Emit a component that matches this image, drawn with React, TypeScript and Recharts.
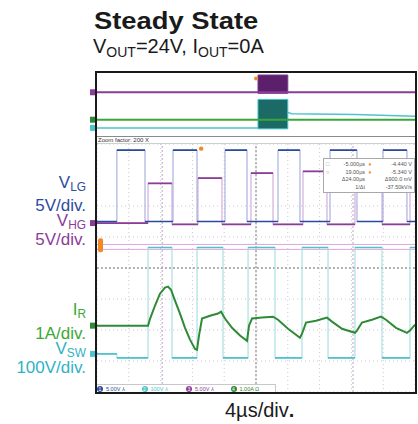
import {
  ComposedChart,
  Line,
  XAxis,
  YAxis,
  CartesianGrid,
  ReferenceLine,
  ReferenceArea,
  ReferenceDot,
} from 'recharts'

// zoom window: time in µs (4µs/div), levels in graticule divisions from centre
const vlgTime = [-20, -17.5, -13.96, -10.44, -7.42, -3.9, -1.13, 2.77, 5.53, 9.31, 12.7, 15.97, 18.99, 20]
const vlgLevel = [1.5, 3.8, 1.5, 3.8, 1.5, 3.8, 1.5, 3.8, 1.5, 3.8, 1.5, 3.8, 1.5, 1.5]

const vhgTime = [-20, -13.58, -10.57, -7.3, -4.28, -0.63, 2.14, 5.91, 8.93, 12.45, 15.85, 19.37, 20]
const vhgLevel = [1.45, 2.73, 1.41, 2.9, 1.41, 3.06, 1.41, 3.12, 1.41, 3.19, 1.41, 3.22, 3.22]

const vswTime = [-20, -17.5, -13.58, -10.57, -7.42, -4.15, -1.0, 2.39, 5.79, 9.06, 12.45, 15.85, 19.37, 20]
const vswLevel = [-2.77, -2.9, 0.66, -2.9, 0.66, -2.9, 0.66, -2.9, 0.66, -2.9, 0.66, -2.9, 0.66, 0.66]

const irTime = [
  -20, -13.58, -13.33, -12.7, -12.08, -11.45, -11.07, -10.69, -10.19, -9.56, -8.93, -8.3, -7.67, -7.42,
  -7.17, -6.79, -5.79, -4.78, -4.4, -3.9, -3.02, -2.01, -1.13, -0.88, -0.5, 0.75, 2.14, 2.77, 4.03, 5.53,
  5.79, 6.29, 7.55, 8.93, 9.56, 10.82, 12.45, 12.7, 13.33, 14.59, 15.72, 16.35, 17.61, 18.99, 19.37, 20,
]
const irLevel = [
  -1.86, -1.86, -1.64, -1.21, -0.83, -0.63, -0.6, -0.7, -1.05, -1.47, -1.93, -2.31, -2.61, -2.64,
  -2.18, -1.63, -1.54, -1.47, -1.41, -1.63, -1.93, -2.18, -2.35, -1.86, -1.63, -1.6, -1.57, -1.67, -1.96, -2.25,
  -2.12, -1.76, -1.7, -1.6, -1.73, -1.96, -2.09, -2.02, -1.76, -1.67, -1.57, -1.67, -1.93, -2.09, -2.02, -1.83,
]

const timeTicks = [-20, -16, -12, -8, -4, 0, 4, 8, 12, 16, 20]
const divTicks = [-4, -3, -2, -1, 0, 1, 2, 3, 4]
const cursorTimes = [-11.8, 12.2]
const cursorLevels = [0.76, 0.6]

// full record: time in ms (0.8ms/div)
const recTicks = [-4, -3.2, -2.4, -1.6, -0.8, 0, 0.8, 1.6, 2.4, 3.2, 4]
const hgRecTime = [-4, 4]
const hgRecLevel = [1.59, 1.59]
const irRecTime = [-4, 4]
const irRecLevel = [-1.84, -1.84]
const swRecTime = [-4, 0.05, 0.4, 0.8, 0.9, 2.5, 4]
const swRecLevel = [-2.86, -2.86, null, -0.95, -1.08, -1.2, -1.42]
const burstTime = [0.05, 0.8]
const hgBurst = [1.46, 3.75]
const swBurst = [-2.98, 0.7]

const zip = (t: number[], v: (number | null)[]) => t.map((x, i) => ({ t: x, v: v[i] }))
// only the flat parts of a step trace, so the fast edges can be drawn paler
const flats = (t: number[], v: number[]) =>
  t.slice(0, -1).flatMap((x, i) => [
    { t: x, v: v[i] },
    { t: t[i + 1], v: v[i] },
    { t: t[i + 1], v: null },
  ])

const BLUE = '#2a4b9d'
const PURPLE = '#8a3d97'
const CYAN = '#4ec3cc'
const GREEN = '#2f8a36'
const ORANGE = '#f08a24'
const FONT = '"Liberation Sans", Arial, Helvetica, sans-serif'

const tab = (color: string) => (p: any) => (
  <rect x={p.cx - 7} y={p.cy - 3} width={5} height={6} fill={color} />
)
const innerTab = (p: any) => <rect x={p.cx + 1} y={p.cy - 7} width={5} height={14} rx={2} fill={ORANGE} />

function Label({ top, color, main, sub, size = 17 }: { top: number; color: string; main: string; sub?: string; size?: number }) {
  return (
    <div style={{ position: 'absolute', right: 332, top, color, fontSize: size, lineHeight: 1, whiteSpace: 'nowrap' }}>
      {main}
      {sub && <span style={{ fontSize: size * 0.7, position: 'relative', top: 3 }}>{sub}</span>}
    </div>
  )
}

function Overview() {
  return (
    <div style={{ position: 'absolute', left: 89, top: 73 }}>
      <ComposedChart width={326} height={64} margin={{ top: 0, right: 0, bottom: 0, left: 8 }}>
        <XAxis dataKey="t" type="number" domain={[-4, 4]} ticks={recTicks} hide allowDataOverflow />
        <YAxis type="number" domain={[-4, 4]} hide allowDataOverflow />
        <ReferenceArea x1={burstTime[0]} x2={burstTime[1]} y1={hgBurst[0]} y2={hgBurst[1]} fill="#5b1f6c" fillOpacity={1} stroke="#7b3a8c" />
        <ReferenceArea x1={burstTime[0]} x2={burstTime[1]} y1={swBurst[0]} y2={swBurst[1]} fill="#1c6a66" fillOpacity={1} stroke="#3fc2c8" />
        <Line data={zip(hgRecTime, hgRecLevel)} dataKey="v" stroke={PURPLE} strokeWidth={2} dot={false} isAnimationActive={false} />
        <Line data={zip(swRecTime, swRecLevel)} dataKey="v" stroke={CYAN} strokeWidth={1.5} dot={false} isAnimationActive={false} />
        <Line data={zip(irRecTime, irRecLevel)} dataKey="v" stroke="#3aa63a" strokeWidth={2} dot={false} isAnimationActive={false} />
        <ReferenceDot x={0} y={3.3} r={2} fill={ORANGE} stroke="none" />
        <ReferenceDot x={-4} y={hgRecLevel[0]} shape={tab(PURPLE)} ifOverflow="visible" />
        <ReferenceDot x={-4} y={irRecLevel[0]} shape={tab(GREEN)} ifOverflow="visible" />
        <ReferenceDot x={-4} y={swRecLevel[0]} shape={tab(CYAN)} ifOverflow="visible" />
      </ComposedChart>
    </div>
  )
}

function ZoomWindow() {
  const step = (t: number[], v: number[], color: string, edge: string, w: number) => [
    <Line key={color + 'e'} data={zip(t, v)} dataKey="v" type="stepAfter" stroke={edge} strokeWidth={1.1} dot={false} isAnimationActive={false} />,
    <Line key={color + 'f'} data={flats(t, v)} dataKey="v" stroke={color} strokeWidth={w} dot={false} isAnimationActive={false} />,
  ]
  return (
    <div style={{ position: 'absolute', left: 89, top: 144 }}>
      <ComposedChart width={326} height={248} margin={{ top: 0, right: 0, bottom: 0, left: 8 }}>
        <XAxis dataKey="t" type="number" domain={[-20, 20]} ticks={timeTicks} hide allowDataOverflow />
        <YAxis type="number" domain={[-4, 4]} ticks={divTicks} hide allowDataOverflow />
        <CartesianGrid stroke="#cfc4d8" strokeDasharray="1 3" />
        <ReferenceLine x={0} stroke="#777" strokeDasharray="2 2" />
        <ReferenceLine y={0} stroke="#777" strokeDasharray="2 2" />
        {cursorTimes.map((c) => (
          <ReferenceLine key={c} x={c} stroke="#b9a6c4" strokeDasharray="2 2" />
        ))}
        {cursorLevels.map((c) => (
          <ReferenceLine key={c} y={c} stroke="#dca8dc" />
        ))}
        {step(vswTime, vswLevel, CYAN, '#a3dde2', 1.6)}
        {step(vhgTime, vhgLevel, PURPLE, '#cfa6da', 1.7)}
        {step(vlgTime, vlgLevel, BLUE, '#a2acdc', 1.7)}
        <Line data={zip(irTime, irLevel)} dataKey="v" stroke={GREEN} strokeWidth={2} dot={false} isAnimationActive={false} />
        <ReferenceDot x={-6.9} y={3.85} r={2.2} fill={ORANGE} stroke="none" />
        <ReferenceDot x={-20} y={0.73} shape={innerTab} ifOverflow="visible" />
        <ReferenceDot x={-20} y={vhgLevel[0]} shape={tab(PURPLE)} ifOverflow="visible" />
        <ReferenceDot x={-20} y={irLevel[0]} shape={tab(GREEN)} ifOverflow="visible" />
        <ReferenceDot x={-20} y={vswLevel[0]} shape={tab(CYAN)} ifOverflow="visible" />
      </ComposedChart>
    </div>
  )
}

const readout = [
  ['□', '-5.000µs', '-4.440 V'],
  ['○', '19.00µs', '-5.340 V'],
  ['', 'Δ24.00µs', 'Δ900.0 mV'],
  ['', '1/Δt', '-37.50kV/s'],
]

const status = [
  { ch: '1', color: BLUE, text: '5.00V  ⅄' },
  { ch: '2', color: CYAN, text: '100V  ⅄' },
  { ch: '3', color: PURPLE, text: '5.00V  ⅄' },
  { ch: '4', color: GREEN, text: '1.00A Ω' },
]

export default function App() {
  return (
    <div style={{ position: 'absolute', left: 0, top: 0, width: 418, height: 424, background: '#fff', fontFamily: FONT, overflow: 'hidden' }}>
      <div style={{ position: 'absolute', left: 94, top: 7, fontSize: 24, fontWeight: 700, color: '#1a1a1a', transform: 'scaleX(1.14)', transformOrigin: 'left', whiteSpace: 'nowrap' }}>
        Steady State
      </div>
      <div style={{ position: 'absolute', left: 93, top: 35, fontSize: 20, color: '#1a1a1a', whiteSpace: 'nowrap' }}>
        V<span style={{ fontSize: 14, position: 'relative', top: 4 }}>OUT</span>=24V, I
        <span style={{ fontSize: 14, position: 'relative', top: 4 }}>OUT</span>=0A
      </div>

      <Label top={174} color={BLUE} main="V" sub="LG" />
      <Label top={197} color={BLUE} main="5V/div." />
      <Label top={212} color={PURPLE} main="V" sub="HG" />
      <Label top={231} color={PURPLE} main="5V/div." />
      <Label top={301} color="#3aaa35" main="I" sub="R" />
      <Label top={325} color="#3aaa35" main="1A/div." />
      <Label top={340} color="#2fb3c3" main="V" sub="SW" />
      <Label top={359} color="#2fb3c3" main="100V/div." />

      <Overview />
      <div style={{ position: 'absolute', left: 97, top: 136, width: 318, height: 6, background: '#fff', borderTop: '1px solid #8a8a8a', borderBottom: '1px solid #d0d0d0', fontSize: 6, lineHeight: '6px', color: '#333', paddingLeft: 1 }}>
        Zoom factor: 200 X
      </div>
      <ZoomWindow />

      <div style={{ position: 'absolute', left: 323, top: 158, width: 92, height: 35, background: '#fff', border: '1px solid #a8a8a8', fontSize: 5.5, color: '#555', boxSizing: 'border-box', padding: '2px 2px' }}>
        {readout.map((r, i) => (
          <div key={i} style={{ display: 'flex', height: 7.5, lineHeight: '7.5px', whiteSpace: 'nowrap' }}>
            <span style={{ width: 8, color: '#999' }}>{r[0]}</span>
            <span style={{ width: 32, textAlign: 'right' }}>{r[1]}</span>
            <span style={{ width: 10, textAlign: 'center', color: ORANGE }}>{i < 2 ? '♦' : ''}</span>
            <span style={{ width: 38, textAlign: 'right' }}>{r[2]}</span>
          </div>
        ))}
      </div>

      <div style={{ position: 'absolute', left: 97, top: 384, width: 178, height: 7, borderTop: '1px solid #c8c8c8', borderRight: '1px solid #c8c8c8', display: 'flex', alignItems: 'center', fontSize: 5.5, background: '#fff' }}>
        {status.map((s) => (
          <div key={s.ch} style={{ display: 'flex', alignItems: 'center', width: 44.5, color: s.color }}>
            <span style={{ width: 6, height: 6, borderRadius: 3, background: s.color, color: '#fff', fontSize: 5, lineHeight: '6px', textAlign: 'center', marginRight: 3 }}>{s.ch}</span>
            {s.text}
          </div>
        ))}
      </div>

      <div style={{ position: 'absolute', left: 95, top: 71, width: 322, height: 323, border: '2px solid #1a1a1a', boxSizing: 'border-box', pointerEvents: 'none' }} />

      <div style={{ position: 'absolute', left: 225, top: 399, fontSize: 20, color: '#1a1a1a', whiteSpace: 'nowrap' }}>
        4µs/div<b>.</b>
      </div>
    </div>
  )
}
